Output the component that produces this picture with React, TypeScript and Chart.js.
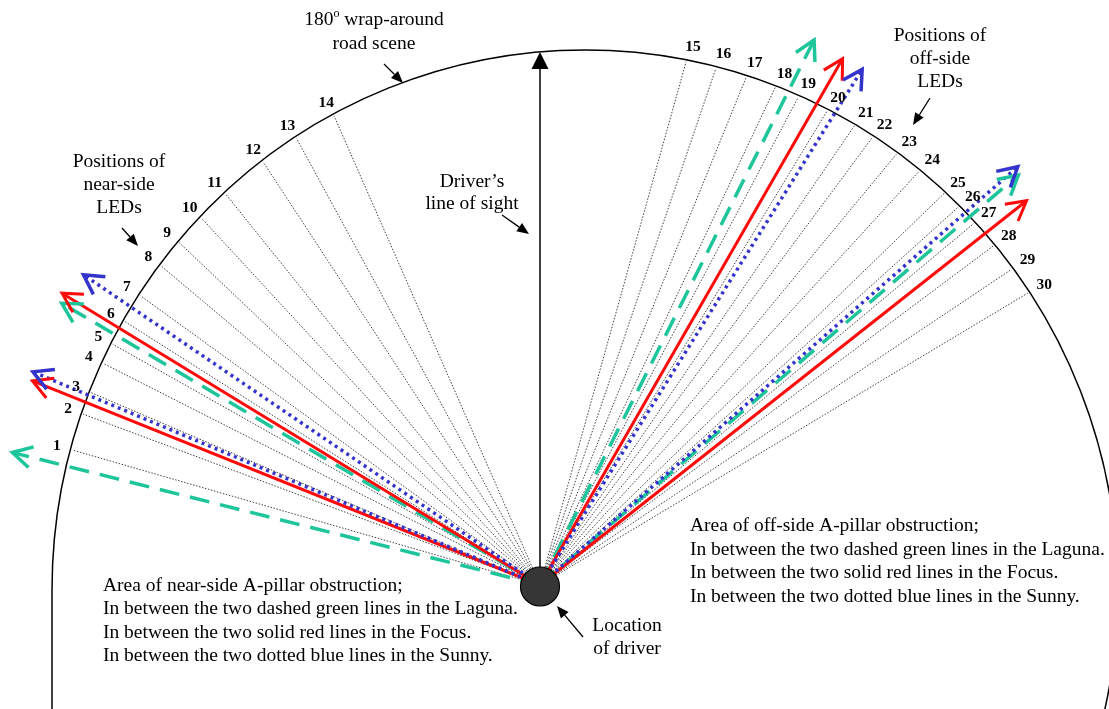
import React, { useEffect, useRef } from "react";
import { Chart, registerables } from "chart.js";

Chart.register(...registerables);

// ---- Data (scene units: driver at origin, y = straight ahead; angles in degrees, 0 = right, 90 = ahead) ----
const ledLabels = [
  "1", "2", "3", "4", "5", "6", "7", "8", "9", "10", "11", "12", "13", "14", "15",
  "16", "17", "18", "19", "20", "21", "22", "23", "24", "25", "26", "27", "28", "29", "30",
];
const ledAngles = [
  163.9, 159.5, 156.8, 153.1, 150.6, 147.6, 144.1, 139.9, 136.5, 132.7, 128.8, 123.2, 118.6, 113.7,
  74.4, 71.2, 67.9, 64.7, 62.1, 58.8, 55.6, 53.4, 50.4, 47.5, 44.1, 42.1, 39.8, 36.8, 33.8, 30.9,
];

const carNames = ["Laguna", "Focus", "Sunny"];
// pillar boundary lines: [near-side outer, near-side inner, off-side inner, off-side outer]
const lagunaAngles = [165.9, 149.5, 63.3, 40.6];
const lagunaReach = [544, 555, 610, 630];
const focusAngles = [158.1, 148.6, 60.1, 38.3];
const focusReach = [547, 560, 607, 620];
const sunnyAngles = [157.2, 145.8, 58.0, 41.2];
const sunnyReach = [550, 552, 608, 635];

const sightAngle = 90;
const sightReach = 533;

const nearNote = [
  "Area of near-side A-pillar obstruction;",
  "In between the two dashed green lines in the Laguna.",
  "In between the two solid red lines in the Focus.",
  "In between the two dotted blue lines in the Sunny.",
];
const offNote = [
  "Area of off-side A-pillar obstruction;",
  "In between the two dashed green lines in the Laguna.",
  "In between the two solid red lines in the Focus.",
  "In between the two dotted blue lines in the Sunny.",
];
const wrapNote = ["180", "o", " wrap-around", "road scene"];
const nearLedNote = ["Positions of", "near-side", "LEDs"];
const offLedNote = ["Positions of", "off-side", "LEDs"];
const sightNote = ["Driver\u2019s", "line of sight"];
const driverNote = ["Location", "of driver"];

// ---- Geometry / style ----
const ARC = { cx: 45, cy: -5, rx: 533, ry: 540 };
const FONT = "'Liberation Serif', 'Times New Roman', serif";
const TEXT_PX = 19.5;
const carStyles = [
  { color: "#1ec49a", width: 3.5, dash: [20, 11] },
  { color: "#ff0a0a", width: 3, dash: [] as number[] },
  { color: "#3434cc", width: 3.5, dash: [3, 4] },
];

function polar(deg: number, r: number) {
  const a = (deg * Math.PI) / 180;
  return { x: r * Math.cos(a), y: r * Math.sin(a) };
}

function arcReach(deg: number): number {
  const a = (deg * Math.PI) / 180;
  const dx = Math.cos(a);
  const dy = Math.sin(a);
  const { cx, cy, rx, ry } = ARC;
  const A = (dx * dx) / (rx * rx) + (dy * dy) / (ry * ry);
  const B = -2 * ((dx * cx) / (rx * rx) + (dy * cy) / (ry * ry));
  const C = (cx * cx) / (rx * rx) + (cy * cy) / (ry * ry) - 1;
  return (-B + Math.sqrt(B * B - 4 * A * C)) / (2 * A);
}

const carAngles = [lagunaAngles, focusAngles, sunnyAngles];
const carReach = [lagunaReach, focusReach, sunnyReach];

function openHead(ctx: CanvasRenderingContext2D, x1: number, y1: number, x2: number, y2: number, len: number, spread: number) {
  const ang = Math.atan2(y1 - y2, x1 - x2);
  ctx.beginPath();
  ctx.moveTo(x2 + len * Math.cos(ang + spread), y2 + len * Math.sin(ang + spread));
  ctx.lineTo(x2, y2);
  ctx.lineTo(x2 + len * Math.cos(ang - spread), y2 + len * Math.sin(ang - spread));
  ctx.stroke();
}

function filledArrow(ctx: CanvasRenderingContext2D, x1: number, y1: number, x2: number, y2: number, len: number, half: number, lw: number) {
  const ang = Math.atan2(y2 - y1, x2 - x1);
  const bx = x2 - len * Math.cos(ang);
  const by = y2 - len * Math.sin(ang);
  ctx.save();
  ctx.strokeStyle = "#000";
  ctx.fillStyle = "#000";
  ctx.lineWidth = lw;
  ctx.setLineDash([]);
  ctx.beginPath();
  ctx.moveTo(x1, y1);
  ctx.lineTo(bx, by);
  ctx.stroke();
  ctx.beginPath();
  ctx.moveTo(x2, y2);
  ctx.lineTo(bx + half * Math.sin(ang), by - half * Math.cos(ang));
  ctx.lineTo(bx - half * Math.sin(ang), by + half * Math.cos(ang));
  ctx.closePath();
  ctx.fill();
  ctx.restore();
}

const scenePlugin = {
  id: "scene",
  beforeDatasetsDraw(chart: any) {
    const ctx: CanvasRenderingContext2D = chart.ctx;
    const X = (v: number) => chart.scales.x.getPixelForValue(v);
    const Y = (v: number) => chart.scales.y.getPixelForValue(v);
    ctx.save();
    // road-scene arc
    const sx = X(1) - X(0);
    const sy = Y(0) - Y(1);
    ctx.strokeStyle = "#000";
    ctx.lineWidth = 1.5;
    ctx.beginPath();
    ctx.ellipse(X(ARC.cx), Y(ARC.cy), ARC.rx * sx, ARC.ry * sy, 0, Math.PI, 2 * Math.PI + 0.3);
    ctx.stroke();
    ctx.beginPath();
    ctx.moveTo(X(ARC.cx - ARC.rx), Y(ARC.cy));
    ctx.lineTo(X(ARC.cx - ARC.rx), Y(-200));
    ctx.stroke();
    // line of sight
    const tip = polar(sightAngle, sightReach);
    filledArrow(ctx, X(0), Y(0), X(tip.x), Y(tip.y), 17, 8.5, 1.5);
    ctx.restore();
  },
  afterDatasetsDraw(chart: any) {
    const ctx: CanvasRenderingContext2D = chart.ctx;
    const X = (v: number) => chart.scales.x.getPixelForValue(v);
    const Y = (v: number) => chart.scales.y.getPixelForValue(v);
    ctx.save();

    // arrow heads on pillar lines
    carAngles.forEach((angles, ci) => {
      const st = carStyles[ci];
      ctx.strokeStyle = st.color;
      ctx.lineWidth = st.width;
      ctx.setLineDash([]);
      ctx.lineJoin = "miter";
      ctx.lineCap = "butt";
      angles.forEach((deg, i) => {
        const p = polar(deg, carReach[ci][i]);
        openHead(ctx, X(0), Y(0), X(p.x), Y(p.y), 22, (29 * Math.PI) / 180);
      });
    });

    // LED numbers
    ctx.fillStyle = "#000";
    ctx.font = `bold 15.5px ${FONT}`;
    ctx.textAlign = "center";
    ctx.textBaseline = "middle";
    ledAngles.forEach((deg, i) => {
      const p = polar(deg, arcReach(deg));
      const nx = p.x - ARC.cx;
      const ny = p.y - ARC.cy;
      const nl = Math.hypot(nx, ny);
      const lx = p.x + (13 * nx) / nl + (deg < 90 ? 4 : -1);
      const ly = p.y + (13 * ny) / nl;
      ctx.fillText(ledLabels[i], X(lx), Y(ly));
    });

    // driver
    ctx.beginPath();
    ctx.arc(X(0), Y(-1.5), 19.5, 0, Math.PI * 2);
    ctx.fillStyle = "#363636";
    ctx.fill();
    ctx.strokeStyle = "#000";
    ctx.lineWidth = 1.2;
    ctx.stroke();

    // text annotations
    ctx.fillStyle = "#000";
    ctx.font = `${TEXT_PX}px ${FONT}`;
    ctx.textBaseline = "middle";
    ctx.textAlign = "center";
    const centered = (lines: string[], x: number, y0: number, gap: number) => {
      lines.forEach((t, i) => ctx.fillText(t, X(x), Y(y0 - i * gap)));
    };
    // 180º wrap-around
    {
      const w1 = ctx.measureText(wrapNote[0]).width;
      const w3 = ctx.measureText(wrapNote[2]).width;
      ctx.font = `12px ${FONT}`;
      const w2 = ctx.measureText(wrapNote[1]).width;
      const total = w1 + w2 + w3;
      const left = X(-166) - total / 2;
      const yy = Y(565);
      ctx.textAlign = "left";
      ctx.font = `${TEXT_PX}px ${FONT}`;
      ctx.fillText(wrapNote[0], left, yy);
      ctx.font = `12px ${FONT}`;
      ctx.fillText(wrapNote[1], left + w1, yy - 6);
      ctx.font = `${TEXT_PX}px ${FONT}`;
      ctx.fillText(wrapNote[2], left + w1 + w2, yy);
      ctx.textAlign = "center";
      ctx.fillText(wrapNote[3], X(-166), Y(541));
    }
    filledArrow(ctx, X(-156), Y(521), X(-137), Y(502), 12, 5, 1.3);

    centered(nearLedNote, -421, 423, 23);
    filledArrow(ctx, X(-418), Y(357), X(-402), Y(339), 12, 5, 1.3);

    centered(sightNote, -68, 403, 22);
    filledArrow(ctx, X(-38), Y(370), X(-11), Y(351), 12, 5, 1.3);

    centered(offLedNote, 400, 549, 23);
    filledArrow(ctx, X(390), Y(487), X(373), Y(460), 12, 5, 1.3);

    centered(driverNote, 87, -41, 23);
    filledArrow(ctx, X(43), Y(-52), X(17), Y(-21), 12, 5, 1.3);

    ctx.textAlign = "left";
    nearNote.forEach((t, i) => ctx.fillText(t, X(-437), Y(-1 - i * 23.3)));
    offNote.forEach((t, i) => ctx.fillText(t, X(150), Y(59 - i * 23.6)));

    ctx.restore();
  },
};

export default function App() {
  const ref = useRef<HTMLCanvasElement | null>(null);
  useEffect(() => {
    if (!ref.current) return;
    const rayData = ledAngles.map((deg, i) => ({
      label: "LED " + ledLabels[i],
      data: [polar(deg, 0), polar(deg, arcReach(deg) - 2)],
      borderColor: "rgba(20,20,20,0.9)",
      borderWidth: 0.9,
      borderDash: [1.5, 1.6],
      showLine: true,
      pointRadius: 0,
      clip: false,
      order: 10,
    }));
    const pillarData: any[] = [];
    carAngles.forEach((angles, ci) => {
      angles.forEach((deg, i) => {
        pillarData.push({
          label: carNames[ci],
          data: [polar(deg, 0), polar(deg, carReach[ci][i])],
          borderColor: carStyles[ci].color,
          borderWidth: carStyles[ci].width,
          borderDash: carStyles[ci].dash,
          borderCapStyle: "butt",
          showLine: true,
          pointRadius: 0,
          clip: false,
          order: 3 - ci,
        });
      });
    });
    const chart = new Chart(ref.current, {
      type: "scatter",
      data: { datasets: [...pillarData, ...rayData] as any },
      options: {
        animation: false,
        responsive: false,
        events: [],
        layout: { padding: 0 },
        scales: {
          x: { type: "linear", min: -540, max: 569, display: false },
          y: { type: "linear", min: -124, max: 585, display: false },
        },
        plugins: { legend: { display: false }, tooltip: { enabled: false } },
      },
      plugins: [scenePlugin as any],
    });
    return () => chart.destroy();
  }, []);
  return (
    <div style={{ position: "fixed", left: 0, top: 0, width: 1109, height: 709, background: "#fff" }}>
      <canvas ref={ref} width={1109} height={709} style={{ display: "block" }} />
    </div>
  );
}
